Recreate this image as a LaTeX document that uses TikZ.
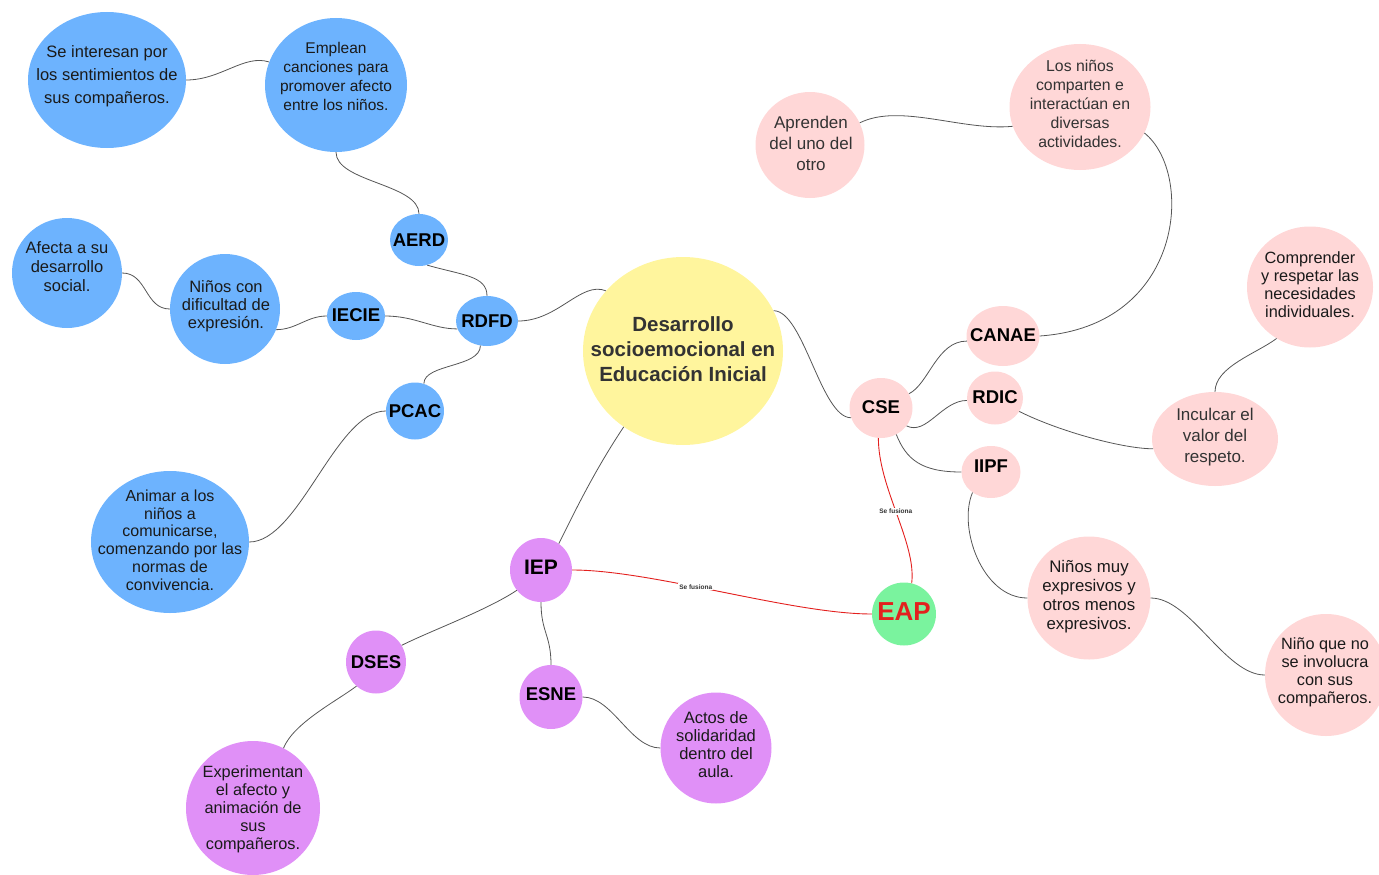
\documentclass[tikz,border=0pt]{standalone}
\usepackage{fontspec}
\setmainfont{Liberation Sans}
\usetikzlibrary{shapes.geometric}
\definecolor{cblue}{HTML}{6DB3FE}
\definecolor{cpink}{HTML}{FFD7D7}
\definecolor{cyel}{HTML}{FFF59D}
\definecolor{cpur}{HTML}{E090F7}
\definecolor{cgreen}{HTML}{7AF39E}
\definecolor{cred}{HTML}{E3201E}
\definecolor{cline}{HTML}{555555}
\definecolor{ctext}{HTML}{333333}
\definecolor{ctextb}{HTML}{1A1A1A}
\begin{document}
\begin{tikzpicture}[x=1pt,y=-1pt,
  bub/.style={ellipse, inner sep=0pt, draw=none, fill=#1},
  txt/.style={align=center, inner sep=0pt, text=ctextb},
  tagt/.style={align=center, inner sep=0pt, text=black, font=\bfseries\fontsize{18.5}{20}\selectfont},
  link/.style={draw=cline, line width=0.8pt},
  fus/.style={draw=cred, line width=0.9pt},
  fl/.style={fill=white, inner sep=1pt, text=ctext, font=\bfseries\fontsize{6.5}{7}\selectfont}]
\useasboundingbox (0,0) rectangle (1379,875);

% ---------- bubbles ----------
\node[bub=cblue, minimum width=158, minimum height=136] (se) at (107,80) {};
\node[txt, font=\fontsize{16.5}{23}\selectfont] (se-t) at (107,76) {Se interesan por\\los sentimientos de\\sus compañeros.};
\node[bub=cblue, minimum width=142, minimum height=134] (emp) at (336,85) {};
\node[txt, font=\fontsize{15.5}{19}\selectfont] (emp-t) at (336,76) {Emplean\\canciones para\\promover afecto\\entre los niños.};
\node[bub=cblue, minimum width=58, minimum height=52] (aerd) at (419,240) {};
\node[tagt] (aerd-t) at (419,240) {AERD};
\node[bub=cblue, minimum width=62, minimum height=50] (rdfd) at (487,321) {};
\node[tagt] (rdfd-t) at (487,321) {RDFD};
\node[bub=cblue, minimum width=58, minimum height=48] (iecie) at (356,316) {};
\node[tagt] (iecie-t) at (356,315) {IECIE};
\node[bub=cblue, minimum width=110, minimum height=110] (nin) at (225,309) {};
\node[txt, font=\fontsize{16.5}{18}\selectfont] (nin-t) at (226,306) {Niños con\\dificultad de\\expresión.};
\node[bub=cblue, minimum width=110, minimum height=110] (afe) at (67,273) {};
\node[txt, font=\fontsize{16.5}{19}\selectfont] (afe-t) at (67,267) {Afecta a su\\desarrollo\\social.};
\node[bub=cblue, minimum width=58, minimum height=57] (pcac) at (415,411) {};
\node[tagt] (pcac-t) at (415,411) {PCAC};
\node[bub=cblue, minimum width=158, minimum height=142] (ani) at (170,542) {};
\node[txt, font=\fontsize{16}{17.8}\selectfont] (ani-t) at (170,540) {Animar a los\\niños a\\comunicarse,\\comenzando por las\\normas de\\convivencia.};

\node[bub=cyel, minimum width=200, minimum height=188] (des) at (683,351) {};
\node[txt, text=ctext, font=\bfseries\fontsize{20.5}{25}\selectfont] (des-t) at (683,349) {Desarrollo\\socioemocional en\\Educación Inicial};

\node[bub=cpink, minimum width=63, minimum height=60] (cse) at (881,408) {};
\node[tagt] (cse-t) at (881,407) {CSE};
\node[bub=cpink, minimum width=73, minimum height=60] (canae) at (1003,336) {};
\node[tagt] (canae-t) at (1003,335) {CANAE};
\node[bub=cpink, minimum width=56, minimum height=53] (rdic) at (995,398) {};
\node[tagt] (rdic-t) at (995,397) {RDIC};
\node[bub=cpink, minimum width=59, minimum height=52] (iipf) at (991,472) {};
\node[tagt] (iipf-t) at (991,466) {IIPF};
\node[bub=cpink, minimum width=109, minimum height=106] (apr) at (810,145) {};
\node[txt, text=ctext, font=\fontsize{17}{21}\selectfont] (apr-t) at (811,143) {Aprenden\\del uno del\\otro};
\node[bub=cpink, minimum width=141, minimum height=126] (lnc) at (1080,107) {};
\node[txt, text=ctext, font=\fontsize{15.8}{19}\selectfont] (lnc-t) at (1080,104) {Los niños\\comparten e\\interactúan en\\diversas\\actividades.};
\node[bub=cpink, minimum width=126, minimum height=121] (comp) at (1310,287) {};
\node[txt, text=ctextb, font=\fontsize{16.3}{18}\selectfont] (comp-t) at (1310,285) {Comprender\\y respetar las\\necesidades\\individuales.};
\node[bub=cpink, minimum width=126, minimum height=94] (inc) at (1215,439) {};
\node[txt, text=ctext, font=\fontsize{17}{21}\selectfont] (inc-t) at (1215,437) {Inculcar el\\valor del\\respeto.};
\node[bub=cpink, minimum width=123, minimum height=123] (nme) at (1089,598) {};
\node[txt, font=\fontsize{16.8}{19}\selectfont] (nme-t) at (1089,597) {Niños muy\\expresivos y\\otros menos\\expresivos.};
\node[bub=cpink, minimum width=122, minimum height=122] (nqn) at (1326,675) {};
\node[txt, font=\fontsize{16.3}{18}\selectfont] (nqn-t) at (1325,672) {Niño que no\\se involucra\\con sus\\compañeros.};

\node[bub=cgreen, minimum width=64, minimum height=63] (eap) at (904,614) {};
\node[txt, text=cred, font=\bfseries\fontsize{26}{28}\selectfont] (eap-t) at (904,612) {EAP};

\node[bub=cpur, minimum width=62, minimum height=64] (iep) at (541,570) {};
\node[txt, text=black, font=\bfseries\fontsize{21}{23}\selectfont] (iep-t) at (541,567) {IEP};
\node[bub=cpur, minimum width=60, minimum height=63] (dses) at (376,662) {};
\node[tagt] (dses-t) at (376,662) {DSES};
\node[bub=cpur, minimum width=63, minimum height=64] (esne) at (551,697) {};
\node[tagt] (esne-t) at (551,694) {ESNE};
\node[bub=cpur, minimum width=111, minimum height=111] (act) at (716,748) {};
\node[txt, font=\fontsize{16.5}{18}\selectfont] (act-t) at (716,745) {Actos de\\solidaridad\\dentro del\\aula.};
\node[bub=cpur, minimum width=134, minimum height=134] (exp) at (253,808) {};
\node[txt, font=\fontsize{16.3}{18}\selectfont] (exp-t) at (253,809) {Experimentan\\el afecto y\\animación de\\sus\\compañeros.};

% ---------- connectors ----------
\draw[link] (se.east) .. controls +(35,0) and +(-25,-8) .. (emp.161);
\draw[link] (emp.south) .. controls +(0,30) and +(0,-30) .. (aerd.north);
\draw[link] (aerd.-72) .. controls +(35,10) and +(0,-20) .. (rdfd.north);
\draw[link] (iecie.east) .. controls +(30,0) and +(-25,0) .. (rdfd.195);
\draw[link] (afe.east) .. controls +(25,0) and +(-25,0) .. (nin.west);
\draw[link] (nin.-22) .. controls +(20,0) and +(-20,0) .. (iecie.west);
\draw[link] (rdfd.-105) .. controls +(0,22) and +(0,-20) .. (pcac.72);
\draw[link] (pcac.west) .. controls +(-50,0) and +(50,0) .. (ani.east);
\draw[link] (rdfd.east) .. controls +(40,0) and +(-25,-10) .. (des.142);
\draw[link] (des.24) .. controls +(30,0) and +(-30,0) .. (cse.198);
\draw[link] (des.232) .. controls +(-30,45) and +(15,-30) .. (iep.56);
\draw[link] (cse.27) .. controls +(20,-10) and +(-30,0) .. (canae.188);
\draw[link] (cse.-35) .. controls +(20,10) and +(-25,0) .. (rdic.185);
\draw[link] (cse.-60) .. controls +(10,25) and +(-40,0) .. (iipf.west);
\draw[link] (canae.east) .. controls +(145,-10) and +(50,40) .. (lnc.-22);
\draw[link] (apr.24) .. controls +(40,-20) and +(-50,5) .. (lnc.196);
\draw[link] (rdic.-29) .. controls +(40,20) and +(-30,0) .. (inc.189);
\draw[link] (inc.north) .. controls +(0,-25) and +(-20,15) .. (comp.237);
\draw[link] (iipf.228) .. controls +(-15,35) and +(-45,0) .. (nme.west);
\draw[link] (nme.east) .. controls +(40,0) and +(-40,0) .. (nqn.west);
\draw[link] (iep.220) .. controls +(-30,20) and +(30,-15) .. (dses.33);
\draw[link] (iep.south) .. controls +(0,30) and +(0,-30) .. (esne.north);
\draw[link] (dses.231) .. controls +(-20,15) and +(10,-25) .. (exp.63);
\draw[link] (esne.east) .. controls +(30,0) and +(-30,0) .. (act.west);

\draw[fus] (cse.-95) .. controls +(0,50) and +(5,-40) .. node[fl, pos=0.48] (f1) {Se fusiona} (eap.76);
\draw[fus] (iep.east) .. controls +(80,0) and +(-80,0) .. node[fl, pos=0.42] (f2) {Se fusiona} (eap.west);
\end{tikzpicture}
\end{document}
